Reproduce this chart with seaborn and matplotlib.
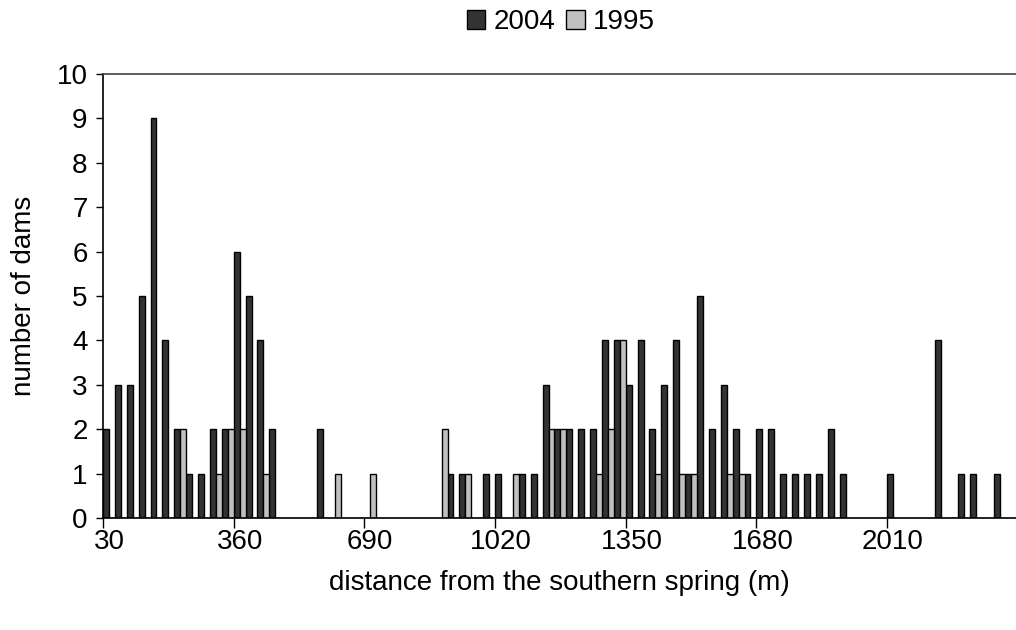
import matplotlib
matplotlib.use("Agg")
import matplotlib.pyplot as plt
import seaborn as sns
import pandas as pd

# distance classes along the stream (m)
distances = list(range(30, 2281, 30))

# dam counts per distance class
dams_2004 = [2, 3, 3, 5, 9, 4, 2, 1, 1, 2, 2, 6, 5, 4, 2, 0, 0, 0, 2, 0,
             0, 0, 0, 0, 0, 0, 0, 0, 0, 1, 1, 0, 1, 1, 0, 1, 1, 3, 2, 2,
             2, 2, 4, 4, 3, 4, 2, 3, 4, 1, 5, 2, 3, 2, 1, 2, 2, 1, 1, 1,
             1, 2, 1, 0, 0, 0, 1, 0, 0, 0, 4, 0, 1, 1, 0, 1]
dams_1995 = [0, 0, 0, 0, 0, 0, 2, 0, 0, 1, 2, 2, 0, 1, 0, 0, 0, 0, 0, 1,
             0, 0, 1, 0, 0, 0, 0, 0, 2, 0, 1, 0, 0, 0, 1, 0, 0, 2, 2, 0,
             0, 1, 2, 4, 0, 0, 1, 0, 1, 1, 0, 0, 1, 1, 0, 0, 0, 0, 0, 0,
             0, 0, 0, 0, 0, 0, 0, 0, 0, 0, 0, 0, 0, 0, 0, 0]

years = ["2004", "1995"]
colors = {"2004": "#333333", "1995": "#c0c0c0"}
tick_labels = ["30", "360", "690", "1020", "1350", "1680", "2010"]

df = pd.DataFrame({
    "distance": distances * 2,
    "year": ["2004"] * len(distances) + ["1995"] * len(distances),
    "dams": dams_2004 + dams_1995,
})

sns.set_theme(style="white")
plt.rcParams["font.family"] = ["Liberation Sans", "DejaVu Sans"]
plt.rcParams["text.color"] = "black"
plt.rcParams["axes.labelcolor"] = "black"

FS = 20

fig = plt.figure(figsize=(10.16, 6.30), dpi=100)
ax = fig.add_axes([103 / 1016, 1 - 518 / 630, 1 - 103 / 1016, (518 - 74) / 630])

sns.barplot(data=df, x="distance", y="dams", hue="year", hue_order=years,
            order=distances, palette=colors, width=1.0, errorbar=None,
            edgecolor="black", linewidth=1.0, ax=ax)

n_shown = (1016 - 103) / 11.88
ax.set_xlim(-0.5, -0.5 + n_shown)
ax.set_ylim(0, 10)
ax.set_yticks(range(0, 11))

# labels centred on every 11th class, tick marks on the class boundaries
label_pos = [distances.index(int(t)) for t in tick_labels]
ax.set_xticks(label_pos)
ax.set_xticklabels(tick_labels)
ax.set_xticks([p - 0.5 for p in label_pos], minor=True)
ax.tick_params(axis="x", which="major", length=0, pad=8, labelsize=FS,
               labelcolor="black")
ax.tick_params(axis="x", which="minor", bottom=True, length=7, width=1, color="black")
ax.tick_params(axis="y", left=True, length=5, width=1, pad=6, labelsize=FS,
               color="black", labelcolor="black")

for side in ["left", "bottom"]:
    ax.spines[side].set_color("black")
    ax.spines[side].set_linewidth(1.2)
ax.spines["top"].set_color("#444444")
ax.spines["top"].set_linewidth(1.2)
ax.spines["right"].set_visible(False)

ax.set_xlabel("distance from the southern spring (m)", fontsize=FS, labelpad=11)
ax.set_ylabel("number of dams", fontsize=FS, labelpad=14)

handles, labels = ax.get_legend_handles_labels()
ax.legend(handles, labels, loc="center", bbox_to_anchor=(561 / 1016, 1 - 22 / 630),
          bbox_transform=fig.transFigure, ncol=2, frameon=False, fontsize=FS,
          handlelength=0.65, handleheight=0.65, handletextpad=0.3,
          columnspacing=0.4, borderpad=0)

fig.savefig("out.png", dpi=100)
